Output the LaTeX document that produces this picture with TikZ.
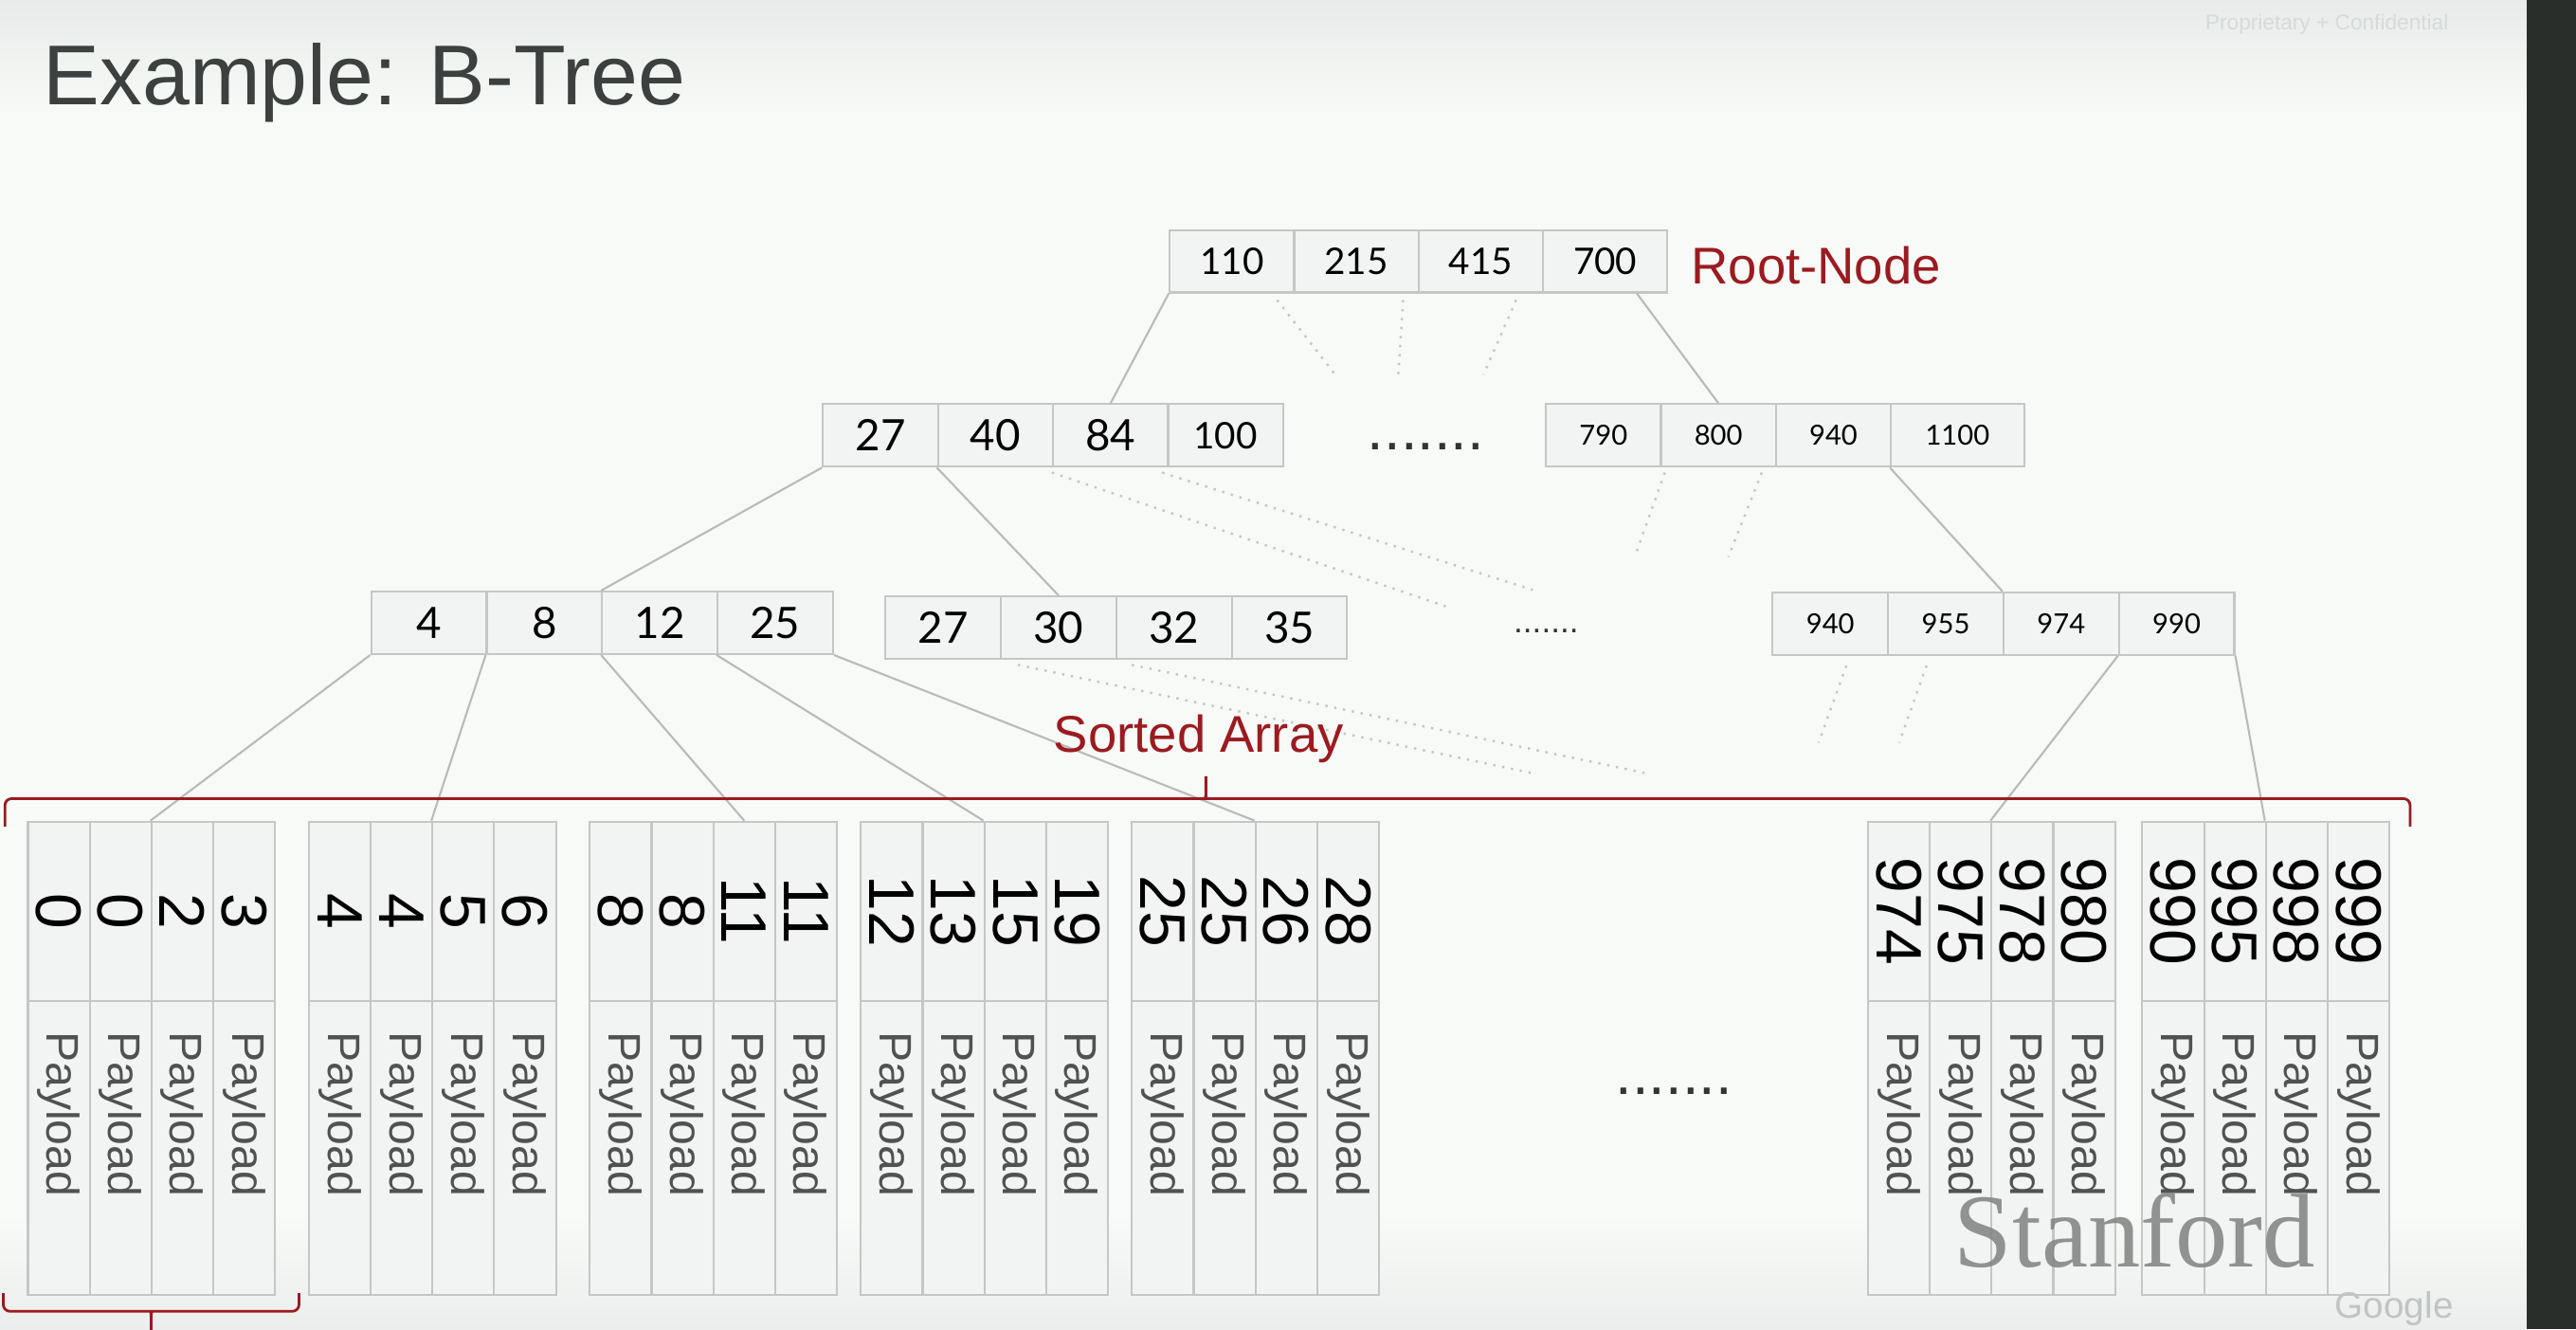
\documentclass[tikz,border=0pt]{standalone}
\usepackage{fontspec}
\setmainfont{Liberation Sans}
\newfontfamily\keyfont{Lato}
\newfontfamily\crestfont{Liberation Serif}
\usetikzlibrary{calc}

\definecolor{slidebg}{RGB}{247,250,247}
\definecolor{bgtop}{RGB}{232,235,233}
\definecolor{bgbot}{RGB}{236,238,237}
\definecolor{darkbar}{RGB}{42,46,42}
\definecolor{cellfill}{RGB}{242,244,243}
\definecolor{cellline}{RGB}{196,199,197}
\definecolor{linkgray}{RGB}{185,187,186}
\definecolor{hintgray}{RGB}{198,200,199}
\definecolor{rootred}{RGB}{155,27,32}
\definecolor{titlegray}{RGB}{60,64,62}
\definecolor{paygray}{RGB}{80,82,81}
\definecolor{faintgray}{RGB}{214,218,216}
\definecolor{googlegray}{RGB}{192,196,194}
\definecolor{stanfordgray}{RGB}{128,130,129}
\newcommand{\upx}{0.017334cm}

\begin{document}
\begin{tikzpicture}[x=\upx,y=-\upx,
    cell/.style={draw=cellline,fill=cellfill,line width=0.6pt,inner sep=0pt,minimum height=38*\upx},
    rootcell/.style={cell,minimum width=75.75*\upx,font=\keyfont\fontsize{11}{13}\selectfont},
    bigcell/.style={cell,minimum width=70.25*\upx,font=\keyfont\fontsize{13}{15}\selectfont},
    smallcell/.style={cell,minimum width=70.25*\upx,font=\keyfont\fontsize{8.3}{10}\selectfont},
    keycell/.style={draw=cellline,fill=cellfill,line width=0.6pt,inner sep=0pt,minimum width=37.6*\upx,minimum height=109*\upx},
    paycell/.style={keycell,minimum height=179*\upx},
    keytext/.style={rotate=-90,inner sep=0pt,font=\fontsize{19.3}{22}\selectfont},
    paytext/.style={rotate=-90,anchor=west,inner sep=0pt,text=paygray,font=\fontsize{13.7}{16}\selectfont},
    link/.style={draw=linkgray,line width=0.6pt},
    hint/.style={draw=hintgray,line width=0.7pt,dotted},
    brace/.style={draw=rootred,line width=0.8pt,rounded corners=2pt},
    redlabel/.style={text=rootred,inner sep=0pt,font=\fontsize{15.5}{18}\selectfont},
    dotrow/.style={anchor=base west,inner sep=0pt,text=black!80}]

  % slide background
  \useasboundingbox (0,0) rectangle (1568,809);
  \shade[top color=bgtop,bottom color=slidebg] (0,0) rectangle (1538,70);
  \fill[slidebg] (0,70) rectangle (1538,740);
  \shade[top color=slidebg,bottom color=bgbot] (0,740) rectangle (1538,809);
  \fill[darkbar] (1538,0) rectangle (1568,809);

  \node[anchor=base west,inner sep=0pt,text=titlegray,font=\fontsize{25.5}{30}\selectfont] (title) at (26,63.5) {Example: B-Tree};
  \node[anchor=base west,inner sep=0pt,text=faintgray,font=\fontsize{6.45}{8}\selectfont] (confid) at (1342,18) {Proprietary + Confidential};

  % root
  \foreach \v [count=\i] in {110,215,415,700}
    \node[rootcell] (root\i) at ({712+75.75*(\i-.5)},159) {\v};
  \node[redlabel,anchor=base west] (rootlbl) at (1029,173) {Root-Node};

  % second level
  \foreach \v [count=\i] in {27,40,84}
    \node[bigcell] (l2a\i) at ({501+70*(\i-.5)},265) {\v};
  \node[bigcell,minimum width=70*\upx,font=\keyfont\fontsize{11}{13}\selectfont] (l2a4) at (746,265) {100};
  \node[dotrow,font=\fontsize{18}{20}\selectfont] (dots2) at (832,274) {.......};
  \foreach \v [count=\i] in {790,800,940}
    \node[smallcell,minimum width=70*\upx] (l2b\i) at ({941+70*(\i-.5)},265) {\v};
  \node[smallcell,minimum width=81*\upx] (l2b4) at (1191.5,265) {1100};

  % third level
  \foreach \v [count=\i] in {4,8,12,25}
    \node[bigcell] (l3a\i) at ({226+70.25*(\i-.5)},379) {\v};
  \foreach \v [count=\i] in {27,30,32,35}
    \node[bigcell] (l3b\i) at ({539+70.25*(\i-.5)},382) {\v};
  \node[dotrow,font=\fontsize{10}{12}\selectfont] (dots3) at (921,385) {.......};
  \foreach \v [count=\i] in {940,955,974,990}
    \node[smallcell] (l3c\i) at ({1079+70.25*(\i-.5)},379.5) {\v};

  % leaves: sorted arrays of keys and payloads
  \foreach \g/\gx/\keys in {1/17/{0,0,2,3},2/188/{4,4,5,6},3/359/{8,8,11,11},4/524/{12,13,15,19},
                           5/689/{25,25,26,28},6/1137/{974,975,978,980},7/1304/{990,995,998,999}}
    \foreach \k [count=\c] in \keys {
      \node[keycell] (g\g k\c) at ({\gx+37.6*(\c-.5)},554.5) {};
      \node[keytext] (g\g t\c) at (g\g k\c) {\k};
      \node[paycell] (g\g p\c) at ({\gx+37.6*(\c-.5)},698.5) {};
      \node[paytext] (g\g q\c) at ($(g\g p\c.north)+(0,19)$) {Payload};
    }
  \node[dotrow,font=\fontsize{18}{20}\selectfont] (dots4) at (983,666) {.......};

  % links root -> second level
  \draw[link] (root1.south west) -- (l2a3.north);
  \draw[link] ($(root4.south)!.5!(root4.south east)$) -- (l2b2.north);
  \coordinate (rs1) at (812,227);
  \coordinate (rs2) at (851,230);
  \coordinate (rs3) at (903,228);
  \draw[hint] ($(root1.south east)+(-11,4)$) -- (rs1);
  \draw[hint] ($(root2.south east)+(-10,4)$) -- (rs2);
  \draw[hint] ($(root3.south east)+(-17,4)$) -- (rs3);

  % links second -> third level
  \draw[link] (l2a1.south west) -- (l3a3.north west);
  \draw[link] (l2a2.south west) -- (l3b2.north);
  \coordinate (as1) at (883,370);
  \coordinate (as2) at (933,359);
  \draw[hint] ($(l2a3.south west)+(0,3)$) -- (as1);
  \draw[hint] ($(l2a4.south west)+(-3,3)$) -- (as2);
  \coordinate (bs1) at (995,339);
  \coordinate (bs2) at (1052,339);
  \draw[hint] ($(l2b2.south west)+(3,3)$) -- (bs1);
  \draw[hint] ($(l2b3.south west)+(-8,3)$) -- (bs2);
  \draw[link] (l2b4.south west) -- (l3c3.north west);

  % links third level -> leaves
  \draw[link] (l3a1.south west) -- (g1k3.north west);
  \draw[link] (l3a2.south west) -- (g2k3.north west);
  \draw[link] (l3a3.south west) -- (g3k3.north);
  \draw[link] (l3a4.south west) -- (g4k3.north west);
  \draw[link] (l3a4.south east) -- (g5k3.north west);
  \coordinate (cs1) at (935,471);
  \coordinate (cs2) at (1004,471);
  \draw[hint] ($(l3b2.south west)+(11,3)$) -- (cs1);
  \draw[hint] ($(l3b3.south west)+(10,3)$) -- (cs2);
  \coordinate (ds1) at (1107,452);
  \coordinate (ds2) at (1156,452);
  \draw[hint] ($(l3c1.south east)+(-26,6)$) -- (ds1);
  \draw[hint] ($(l3c2.south west)+(24,6)$) -- (ds2);
  \draw[link] (l3c4.south west) -- (g6k3.north west);
  \draw[link] (l3c4.south east) -- (g7k3.north west);

  % braces
  \draw[brace] (3,503) -- (3,486) -- (731,486) .. controls (734,486) .. (734,470) .. controls (734,486) .. (737,486) -- (1467,486) -- (1467,503);
  \node[redlabel,anchor=base west] (sortlbl) at (641,458) {Sorted Array};
  \draw[brace] (2,787) -- (2,798) -- (89,798) .. controls (92,798) .. (92,812) .. controls (92,798) .. (95,798) -- (182,798) -- (182,787);

  \node[anchor=base west,inner sep=0pt,text=stanfordgray,opacity=.85,font=\crestfont\fontsize{31.5}{36}\selectfont] (crest) at (1189,771) {Stanford};
  \node[anchor=base west,inner sep=0pt,text=googlegray,font=\fontsize{11}{13}\selectfont] (google) at (1421,802) {Google};
\end{tikzpicture}
\end{document}
